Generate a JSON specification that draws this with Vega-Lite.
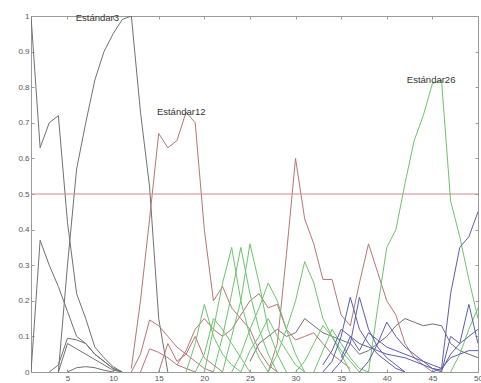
{
  "$schema": "https://vega.github.io/schema/vega-lite/v6.json",
  "width": 447,
  "height": 356,
  "autosize": {"type": "none"},
  "padding": {"left": 31, "top": 16, "right": 3, "bottom": 11},
  "background": "white",
  "config": {
    "view": {"stroke": "#9a9a9a", "strokeWidth": 1},
    "axis": {"grid": false, "domain": false, "labelFont": "Liberation Sans", "labelFontSize": 8, "labelColor": "#555", "tickColor": "#9a9a9a", "tickSize": -3, "labelPadding": 5, "labelOverlap": false, "labelBound": false, "labelFlush": false}
  },
  "resolve": {"axis": {"x": "independent", "y": "independent"}},
  "layer": [
    {
      "data": {"values": [
        {"s":"B1","g":"k","x":1,"y":1.0},{"s":"B1","g":"k","x":2,"y":0.63},{"s":"B1","g":"k","x":3,"y":0.70},{"s":"B1","g":"k","x":4,"y":0.72},{"s":"B1","g":"k","x":5,"y":0.42},{"s":"B1","g":"k","x":6,"y":0.22},{"s":"B1","g":"k","x":7,"y":0.15},{"s":"B1","g":"k","x":8,"y":0.07},{"s":"B1","g":"k","x":9,"y":0.04},{"s":"B1","g":"k","x":10,"y":0.015},{"s":"B1","g":"k","x":11,"y":0},
        {"s":"B2","g":"k","x":4,"y":0},{"s":"B2","g":"k","x":5,"y":0.3},{"s":"B2","g":"k","x":6,"y":0.57},{"s":"B2","g":"k","x":7,"y":0.7},{"s":"B2","g":"k","x":8,"y":0.82},{"s":"B2","g":"k","x":9,"y":0.9},{"s":"B2","g":"k","x":10,"y":0.95},{"s":"B2","g":"k","x":11,"y":0.99},{"s":"B2","g":"k","x":12,"y":1.0},{"s":"B2","g":"k","x":13,"y":0.73},{"s":"B2","g":"k","x":14,"y":0.52},{"s":"B2","g":"k","x":15,"y":0.15},{"s":"B2","g":"k","x":16,"y":0},
        {"s":"B3","g":"k","x":1,"y":0},{"s":"B3","g":"k","x":2,"y":0.37},{"s":"B3","g":"k","x":3,"y":0.3},{"s":"B3","g":"k","x":4,"y":0.24},{"s":"B3","g":"k","x":5,"y":0.17},{"s":"B3","g":"k","x":6,"y":0.1},{"s":"B3","g":"k","x":7,"y":0.08},{"s":"B3","g":"k","x":8,"y":0.05},{"s":"B3","g":"k","x":9,"y":0.03},{"s":"B3","g":"k","x":10,"y":0.01},{"s":"B3","g":"k","x":11,"y":0},
        {"s":"B4","g":"k","x":3,"y":0},{"s":"B4","g":"k","x":4,"y":0.02},{"s":"B4","g":"k","x":5,"y":0.095},{"s":"B4","g":"k","x":6,"y":0.09},{"s":"B4","g":"k","x":7,"y":0.08},{"s":"B4","g":"k","x":8,"y":0.05},{"s":"B4","g":"k","x":9,"y":0.03},{"s":"B4","g":"k","x":10,"y":0.01},{"s":"B4","g":"k","x":11,"y":0},
        {"s":"B5","g":"k","x":4,"y":0},{"s":"B5","g":"k","x":5,"y":0.08},{"s":"B5","g":"k","x":6,"y":0.065},{"s":"B5","g":"k","x":7,"y":0.05},{"s":"B5","g":"k","x":8,"y":0.035},{"s":"B5","g":"k","x":9,"y":0.02},{"s":"B5","g":"k","x":10,"y":0.005},{"s":"B5","g":"k","x":11,"y":0},
        {"s":"B6","g":"k","x":5,"y":0},{"s":"B6","g":"k","x":6,"y":0.012},{"s":"B6","g":"k","x":7,"y":0.015},{"s":"B6","g":"k","x":8,"y":0.012},{"s":"B6","g":"k","x":9,"y":0.005},{"s":"B6","g":"k","x":10,"y":0},
        {"s":"K1","g":"k","x":37,"y":0.05},{"s":"K1","g":"k","x":38,"y":0.06},{"s":"K1","g":"k","x":39,"y":0.08},{"s":"K1","g":"k","x":40,"y":0.1},{"s":"K1","g":"k","x":41,"y":0.13},{"s":"K1","g":"k","x":42,"y":0.15},{"s":"K1","g":"k","x":43,"y":0.14},{"s":"K1","g":"k","x":44,"y":0.13},{"s":"K1","g":"k","x":45,"y":0.135},{"s":"K1","g":"k","x":46,"y":0.13},{"s":"K1","g":"k","x":47,"y":0.08},{"s":"K1","g":"k","x":48,"y":0.06},{"s":"K1","g":"k","x":49,"y":0.05},{"s":"K1","g":"k","x":50,"y":0.04},
        {"s":"K2","g":"k","x":25,"y":0.03},{"s":"K2","g":"k","x":26,"y":0.08},{"s":"K2","g":"k","x":27,"y":0.1},{"s":"K2","g":"k","x":28,"y":0.12},{"s":"K2","g":"k","x":29,"y":0.1},{"s":"K2","g":"k","x":30,"y":0.11},{"s":"K2","g":"k","x":31,"y":0.15},{"s":"K2","g":"k","x":32,"y":0.13},{"s":"K2","g":"k","x":33,"y":0.11},{"s":"K2","g":"k","x":34,"y":0.1},{"s":"K2","g":"k","x":35,"y":0.09},{"s":"K2","g":"k","x":36,"y":0.08},{"s":"K2","g":"k","x":37,"y":0.05},
        {"s":"R1","g":"r","x":12,"y":0.01},{"s":"R1","g":"r","x":13,"y":0.2},{"s":"R1","g":"r","x":14,"y":0.43},{"s":"R1","g":"r","x":15,"y":0.67},{"s":"R1","g":"r","x":16,"y":0.63},{"s":"R1","g":"r","x":17,"y":0.65},{"s":"R1","g":"r","x":18,"y":0.73},{"s":"R1","g":"r","x":19,"y":0.7},{"s":"R1","g":"r","x":20,"y":0.4},{"s":"R1","g":"r","x":21,"y":0.2},{"s":"R1","g":"r","x":22,"y":0.24},{"s":"R1","g":"r","x":23,"y":0.18},{"s":"R1","g":"r","x":24,"y":0.15},{"s":"R1","g":"r","x":25,"y":0.12},{"s":"R1","g":"r","x":26,"y":0.06},{"s":"R1","g":"r","x":27,"y":0.02},{"s":"R1","g":"r","x":28,"y":0},
        {"s":"R2","g":"r","x":27,"y":0},{"s":"R2","g":"r","x":28,"y":0.08},{"s":"R2","g":"r","x":29,"y":0.33},{"s":"R2","g":"r","x":30,"y":0.6},{"s":"R2","g":"r","x":31,"y":0.43},{"s":"R2","g":"r","x":32,"y":0.36},{"s":"R2","g":"r","x":33,"y":0.26},{"s":"R2","g":"r","x":34,"y":0.26},{"s":"R2","g":"r","x":35,"y":0.16},{"s":"R2","g":"r","x":36,"y":0.13},{"s":"R2","g":"r","x":37,"y":0.25},{"s":"R2","g":"r","x":38,"y":0.36},{"s":"R2","g":"r","x":39,"y":0.28},{"s":"R2","g":"r","x":40,"y":0.2},{"s":"R2","g":"r","x":41,"y":0.16},{"s":"R2","g":"r","x":42,"y":0.08},{"s":"R2","g":"r","x":43,"y":0.04},{"s":"R2","g":"r","x":44,"y":0.02},{"s":"R2","g":"r","x":45,"y":0},
        {"s":"R3","g":"r","x":12,"y":0},{"s":"R3","g":"r","x":13,"y":0.05},{"s":"R3","g":"r","x":14,"y":0.146},{"s":"R3","g":"r","x":15,"y":0.13},{"s":"R3","g":"r","x":16,"y":0.1},{"s":"R3","g":"r","x":17,"y":0.07},{"s":"R3","g":"r","x":18,"y":0.05},{"s":"R3","g":"r","x":19,"y":0.03},{"s":"R3","g":"r","x":20,"y":0.01},{"s":"R3","g":"r","x":21,"y":0},
        {"s":"R4","g":"r","x":13,"y":0},{"s":"R4","g":"r","x":14,"y":0.065},{"s":"R4","g":"r","x":15,"y":0.055},{"s":"R4","g":"r","x":16,"y":0.04},{"s":"R4","g":"r","x":17,"y":0.02},{"s":"R4","g":"r","x":18,"y":0.01},{"s":"R4","g":"r","x":19,"y":0},
        {"s":"R5","g":"r","x":15,"y":0},{"s":"R5","g":"r","x":16,"y":0.08},{"s":"R5","g":"r","x":17,"y":0.03},{"s":"R5","g":"r","x":18,"y":0.05},{"s":"R5","g":"r","x":19,"y":0.1},{"s":"R5","g":"r","x":20,"y":0.04},{"s":"R5","g":"r","x":21,"y":0.02},{"s":"R5","g":"r","x":22,"y":0},
        {"s":"RB","g":"r","x":17,"y":0.02},{"s":"RB","g":"r","x":18,"y":0.06},{"s":"RB","g":"r","x":19,"y":0.12},{"s":"RB","g":"r","x":20,"y":0.15},{"s":"RB","g":"r","x":21,"y":0.12},{"s":"RB","g":"r","x":22,"y":0.1},{"s":"RB","g":"r","x":23,"y":0.12},{"s":"RB","g":"r","x":24,"y":0.16},{"s":"RB","g":"r","x":25,"y":0.2},{"s":"RB","g":"r","x":26,"y":0.22},{"s":"RB","g":"r","x":27,"y":0.18},{"s":"RB","g":"r","x":28,"y":0.19},{"s":"RB","g":"r","x":29,"y":0.12},{"s":"RB","g":"r","x":30,"y":0.09},{"s":"RB","g":"r","x":31,"y":0.1},{"s":"RB","g":"r","x":32,"y":0.11},{"s":"RB","g":"r","x":33,"y":0.08},{"s":"RB","g":"r","x":34,"y":0.05},{"s":"RB","g":"r","x":35,"y":0.03},{"s":"RB","g":"r","x":36,"y":0.01},
        {"s":"G1","g":"g","x":18,"y":0},{"s":"G1","g":"g","x":19,"y":0.08},{"s":"G1","g":"g","x":20,"y":0.19},{"s":"G1","g":"g","x":21,"y":0.1},{"s":"G1","g":"g","x":22,"y":0.05},{"s":"G1","g":"g","x":23,"y":0.02},{"s":"G1","g":"g","x":24,"y":0},
        {"s":"G2","g":"g","x":20,"y":0},{"s":"G2","g":"g","x":21,"y":0.12},{"s":"G2","g":"g","x":22,"y":0.25},{"s":"G2","g":"g","x":23,"y":0.35},{"s":"G2","g":"g","x":24,"y":0.2},{"s":"G2","g":"g","x":25,"y":0.1},{"s":"G2","g":"g","x":26,"y":0.04},{"s":"G2","g":"g","x":27,"y":0},
        {"s":"G3","g":"g","x":21,"y":0},{"s":"G3","g":"g","x":22,"y":0.1},{"s":"G3","g":"g","x":23,"y":0.22},{"s":"G3","g":"g","x":24,"y":0.35},{"s":"G3","g":"g","x":25,"y":0.22},{"s":"G3","g":"g","x":26,"y":0.12},{"s":"G3","g":"g","x":27,"y":0.05},{"s":"G3","g":"g","x":28,"y":0},
        {"s":"G4","g":"g","x":22,"y":0},{"s":"G4","g":"g","x":23,"y":0.1},{"s":"G4","g":"g","x":24,"y":0.2},{"s":"G4","g":"g","x":25,"y":0.36},{"s":"G4","g":"g","x":26,"y":0.25},{"s":"G4","g":"g","x":27,"y":0.12},{"s":"G4","g":"g","x":28,"y":0.05},{"s":"G4","g":"g","x":29,"y":0},
        {"s":"G5","g":"g","x":23,"y":0},{"s":"G5","g":"g","x":24,"y":0.05},{"s":"G5","g":"g","x":25,"y":0.12},{"s":"G5","g":"g","x":26,"y":0.18},{"s":"G5","g":"g","x":27,"y":0.25},{"s":"G5","g":"g","x":28,"y":0.2},{"s":"G5","g":"g","x":29,"y":0.12},{"s":"G5","g":"g","x":30,"y":0.05},{"s":"G5","g":"g","x":31,"y":0},
        {"s":"G6","g":"g","x":27,"y":0},{"s":"G6","g":"g","x":28,"y":0.05},{"s":"G6","g":"g","x":29,"y":0.12},{"s":"G6","g":"g","x":30,"y":0.2},{"s":"G6","g":"g","x":31,"y":0.31},{"s":"G6","g":"g","x":32,"y":0.25},{"s":"G6","g":"g","x":33,"y":0.15},{"s":"G6","g":"g","x":34,"y":0.1},{"s":"G6","g":"g","x":35,"y":0.05},{"s":"G6","g":"g","x":36,"y":0},
        {"s":"G7","g":"g","x":19,"y":0},{"s":"G7","g":"g","x":20,"y":0.05},{"s":"G7","g":"g","x":21,"y":0.15},{"s":"G7","g":"g","x":22,"y":0.12},{"s":"G7","g":"g","x":23,"y":0.08},{"s":"G7","g":"g","x":24,"y":0.04},{"s":"G7","g":"g","x":25,"y":0},
        {"s":"G8","g":"g","x":24,"y":0},{"s":"G8","g":"g","x":25,"y":0.06},{"s":"G8","g":"g","x":26,"y":0.1},{"s":"G8","g":"g","x":27,"y":0.15},{"s":"G8","g":"g","x":28,"y":0.1},{"s":"G8","g":"g","x":29,"y":0.06},{"s":"G8","g":"g","x":30,"y":0.02},{"s":"G8","g":"g","x":31,"y":0},
        {"s":"G9","g":"g","x":30,"y":0},{"s":"G9","g":"g","x":31,"y":0.03},{"s":"G9","g":"g","x":32,"y":0.08},{"s":"G9","g":"g","x":33,"y":0.13},{"s":"G9","g":"g","x":34,"y":0.1},{"s":"G9","g":"g","x":35,"y":0.06},{"s":"G9","g":"g","x":36,"y":0.03},{"s":"G9","g":"g","x":37,"y":0},
        {"s":"G10","g":"g","x":32,"y":0},{"s":"G10","g":"g","x":33,"y":0.06},{"s":"G10","g":"g","x":34,"y":0.12},{"s":"G10","g":"g","x":35,"y":0.08},{"s":"G10","g":"g","x":36,"y":0.04},{"s":"G10","g":"g","x":37,"y":0.01},{"s":"G10","g":"g","x":38,"y":0},
        {"s":"G26","g":"g","x":38,"y":0},{"s":"G26","g":"g","x":39,"y":0.18},{"s":"G26","g":"g","x":40,"y":0.35},{"s":"G26","g":"g","x":41,"y":0.4},{"s":"G26","g":"g","x":42,"y":0.53},{"s":"G26","g":"g","x":43,"y":0.65},{"s":"G26","g":"g","x":44,"y":0.72},{"s":"G26","g":"g","x":45,"y":0.81},{"s":"G26","g":"g","x":46,"y":0.82},{"s":"G26","g":"g","x":47,"y":0.48},{"s":"G26","g":"g","x":48,"y":0.38},{"s":"G26","g":"g","x":49,"y":0.26},{"s":"G26","g":"g","x":50,"y":0.15},
        {"s":"G11","g":"g","x":47,"y":0},{"s":"G11","g":"g","x":48,"y":0.05},{"s":"G11","g":"g","x":49,"y":0.12},{"s":"G11","g":"g","x":50,"y":0.18},
        {"s":"U1","g":"b","x":33,"y":0},{"s":"U1","g":"b","x":34,"y":0.03},{"s":"U1","g":"b","x":35,"y":0.1},{"s":"U1","g":"b","x":36,"y":0.21},{"s":"U1","g":"b","x":37,"y":0.12},{"s":"U1","g":"b","x":38,"y":0.08},{"s":"U1","g":"b","x":39,"y":0.05},{"s":"U1","g":"b","x":40,"y":0.03},{"s":"U1","g":"b","x":41,"y":0.01},{"s":"U1","g":"b","x":42,"y":0},
        {"s":"U2","g":"b","x":34,"y":0},{"s":"U2","g":"b","x":35,"y":0.03},{"s":"U2","g":"b","x":36,"y":0.08},{"s":"U2","g":"b","x":37,"y":0.21},{"s":"U2","g":"b","x":38,"y":0.12},{"s":"U2","g":"b","x":39,"y":0.07},{"s":"U2","g":"b","x":40,"y":0.04},{"s":"U2","g":"b","x":41,"y":0.02},{"s":"U2","g":"b","x":42,"y":0},
        {"s":"U3","g":"b","x":37,"y":0},{"s":"U3","g":"b","x":38,"y":0.03},{"s":"U3","g":"b","x":39,"y":0.08},{"s":"U3","g":"b","x":40,"y":0.14},{"s":"U3","g":"b","x":41,"y":0.1},{"s":"U3","g":"b","x":42,"y":0.07},{"s":"U3","g":"b","x":43,"y":0.05},{"s":"U3","g":"b","x":44,"y":0.03},{"s":"U3","g":"b","x":45,"y":0.01},{"s":"U3","g":"b","x":46,"y":0},
        {"s":"U4","g":"b","x":33,"y":0.02},{"s":"U4","g":"b","x":34,"y":0.06},{"s":"U4","g":"b","x":35,"y":0.12},{"s":"U4","g":"b","x":36,"y":0.1},{"s":"U4","g":"b","x":37,"y":0.08},{"s":"U4","g":"b","x":38,"y":0.07},{"s":"U4","g":"b","x":39,"y":0.06},{"s":"U4","g":"b","x":40,"y":0.05},{"s":"U4","g":"b","x":41,"y":0.045},{"s":"U4","g":"b","x":42,"y":0.04},{"s":"U4","g":"b","x":43,"y":0.03},{"s":"U4","g":"b","x":44,"y":0.02},{"s":"U4","g":"b","x":45,"y":0.01},{"s":"U4","g":"b","x":46,"y":0.005},{"s":"U4","g":"b","x":47,"y":0.05},{"s":"U4","g":"b","x":48,"y":0.08},{"s":"U4","g":"b","x":49,"y":0.1},{"s":"U4","g":"b","x":50,"y":0.12},
        {"s":"U5","g":"b","x":45,"y":0},{"s":"U5","g":"b","x":46,"y":0.01},{"s":"U5","g":"b","x":47,"y":0.22},{"s":"U5","g":"b","x":48,"y":0.35},{"s":"U5","g":"b","x":49,"y":0.38},{"s":"U5","g":"b","x":50,"y":0.45},
        {"s":"U6","g":"b","x":46,"y":0},{"s":"U6","g":"b","x":47,"y":0.1},{"s":"U6","g":"b","x":48,"y":0.08},{"s":"U6","g":"b","x":49,"y":0.19},{"s":"U6","g":"b","x":50,"y":0.08},
        {"s":"U7","g":"b","x":35,"y":0.04},{"s":"U7","g":"b","x":36,"y":0.1},{"s":"U7","g":"b","x":37,"y":0.06},{"s":"U7","g":"b","x":38,"y":0.11},{"s":"U7","g":"b","x":39,"y":0.09},{"s":"U7","g":"b","x":40,"y":0.07},{"s":"U7","g":"b","x":41,"y":0.06},{"s":"U7","g":"b","x":42,"y":0.05},{"s":"U7","g":"b","x":43,"y":0.04},{"s":"U7","g":"b","x":44,"y":0.03},{"s":"U7","g":"b","x":45,"y":0.02},{"s":"U7","g":"b","x":46,"y":0.01},{"s":"U7","g":"b","x":47,"y":0.04},{"s":"U7","g":"b","x":48,"y":0.05},{"s":"U7","g":"b","x":49,"y":0.06},{"s":"U7","g":"b","x":50,"y":0.06}
      ]},
      "mark": {"type": "line", "strokeWidth": 1, "clip": true},
      "encoding": {
        "x": {"field": "x", "type": "quantitative", "scale": {"domain": [1, 50], "nice": false, "zero": false}, "axis": {"title": null, "values": [5,10,15,20,25,30,35,40,45,50]}},
        "y": {"field": "y", "type": "quantitative", "scale": {"domain": [0, 1], "nice": false}, "axis": {"title": null, "values": [0,0.1,0.2,0.3,0.4,0.5,0.6,0.7,0.8,0.9,1], "format": "~g"}},
        "color": {"field": "g", "type": "nominal", "scale": {"domain": ["k","r","g","b"], "range": ["#707070","#b87474","#6cc46c","#5c5cac"]}, "legend": null},
        "detail": {"field": "s", "type": "nominal"}
      }
    },
    {
      "data": {"values": [{"y": 0.5}]},
      "mark": {"type": "rule", "color": "#d08a8a", "strokeWidth": 1},
      "encoding": {"y": {"field": "y", "type": "quantitative", "axis": null}}
    },
    {
      "data": {"values": [
        {"t": "Estándar3", "x": 5.9, "y": 0.995},
        {"t": "Estándar12", "x": 14.8, "y": 0.73},
        {"t": "Estándar26", "x": 42.2, "y": 0.82}
      ]},
      "mark": {"type": "text", "align": "left", "baseline": "middle", "font": "Liberation Sans", "fontSize": 9.5, "color": "#333"},
      "encoding": {
        "x": {"field": "x", "type": "quantitative", "axis": {"orient": "top", "title": null, "labels": false, "values": [5,10,15,20,25,30,35,40,45,50]}},
        "y": {"field": "y", "type": "quantitative", "axis": {"orient": "right", "title": null, "labels": false, "values": [0,0.1,0.2,0.3,0.4,0.5,0.6,0.7,0.8,0.9,1]}},
        "text": {"field": "t"}
      }
    }
  ]
}
